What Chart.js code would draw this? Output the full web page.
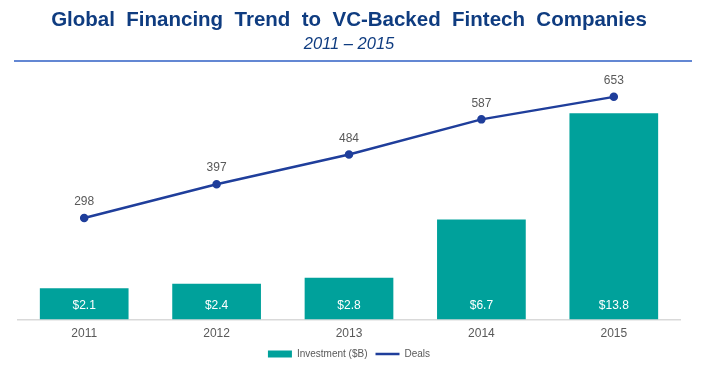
<!DOCTYPE html>
<html>
<head>
<meta charset="utf-8">
<script src="https://cdn.jsdelivr.net/npm/chart.js@4.4.1/dist/chart.umd.min.js"></script>
<style>
  html, body { margin: 0; padding: 0; background: #fff; }
  #wrap { width: 706px; height: 378px; }
</style>
</head>
<body>
<div id="wrap"><canvas id="myChart"></canvas></div>
<script>
var years = ["2011", "2012", "2013", "2014", "2015"];
var investment = [2.1, 2.4, 2.8, 6.7, 13.8];
var deals = [298, 397, 484, 587, 653];

var navy = "#1f3e9b";
var teal = "#00a19b";

// blue rule under the subtitle
var rulePlugin = {
  id: 'rule',
  afterDraw: function (chart) {
    var ctx = chart.ctx;
    ctx.save();
    ctx.strokeStyle = "#2f5fc4";
    ctx.lineWidth = 1.5;
    ctx.beginPath();
    ctx.moveTo(14, 61);
    ctx.lineTo(692, 61);
    ctx.stroke();
    ctx.restore();
  }
};

// value labels on bars and points
var labelPlugin = {
  id: 'valueLabels',
  afterDatasetsDraw: function (chart) {
    var ctx = chart.ctx;
    ctx.save();
    ctx.textAlign = 'center';
    ctx.textBaseline = 'middle';
    ctx.font = "12px 'Liberation Sans', Arial, sans-serif";
    chart.getDatasetMeta(0).data.forEach(function (bar, i) {
      ctx.fillStyle = "#ffffff";
      ctx.fillText("$" + investment[i].toFixed(1), bar.x, chart.scales.y.getPixelForValue(0) - 14);
    });
    chart.getDatasetMeta(1).data.forEach(function (pt, i) {
      ctx.fillStyle = "#595959";
      ctx.fillText(deals[i], pt.x, pt.y - 16);
    });
    ctx.restore();
  }
};

var myChart = new Chart(document.getElementById('myChart'), {
  data: {
    labels: years,
    datasets: [{
      type: 'bar',
      label: 'Investment ($B)',
      data: investment,
      backgroundColor: teal,
      barPercentage: 0.67,
      categoryPercentage: 1,
      yAxisID: 'y',
      order: 2
    },
    {
      type: 'line',
      label: 'Deals',
      data: deals,
      borderColor: navy,
      backgroundColor: navy,
      borderWidth: 2.5,
      pointRadius: 3,
      pointBackgroundColor: navy,
      pointBorderColor: navy,
      yAxisID: 'y1',
      order: 1
    }]
  },
  options: {
    responsive: true,
    maintainAspectRatio: false,
    animation: false,
    layout: {
      padding: { left: 18, right: 26, bottom: 9 }
    },
    plugins: {
      title: {
        display: true,
        text: 'Global  Financing  Trend  to  VC-Backed  Fintech  Companies',
        color: "#0f3c80",
        font: { family: "'Liberation Sans', Arial, sans-serif", size: 20.5, weight: 'bold' },
        padding: { top: 8, bottom: 0 }
      },
      subtitle: {
        display: true,
        text: '2011 \u2013 2015',
        color: "#0f3c80",
        font: { family: "'Liberation Sans', Arial, sans-serif", size: 16.5, style: 'italic' },
        padding: { top: 2, bottom: 15 }
      },
      legend: {
        position: 'bottom',
        labels: {
          color: "#595959",
          font: { family: "'Liberation Sans', Arial, sans-serif", size: 10 },
          usePointStyle: true,
          pointStyleWidth: 24,
          boxHeight: 7,
          padding: 8,
          generateLabels: function (chart) {
            return [
              { text: 'Investment ($B)', fillStyle: teal, strokeStyle: teal, lineWidth: 0, pointStyle: 'rect', datasetIndex: 0, fontColor: "#595959" },
              { text: 'Deals', fillStyle: navy, strokeStyle: navy, lineWidth: 2.5, pointStyle: 'line', datasetIndex: 1, fontColor: "#595959" }
            ];
          }
        }
      },
      tooltip: { enabled: false }
    },
    scales: {
      x: {
        grid: { display: false, drawTicks: false },
        border: { color: "#d9d9d9", width: 1.5 },
        ticks: {
          color: "#595959",
          padding: 7,
          font: { family: "'Liberation Sans', Arial, sans-serif", size: 12 }
        },
        afterFit: function (scale) {
          scale.height -= 7;
        }
      },
      y: {
        display: false,
        min: 0,
        max: 16.74
      },
      y1: {
        display: false,
        position: 'right',
        min: 0,
        max: 733.5
      }
    }
  },
  plugins: [rulePlugin, labelPlugin]
});
</script>
</body>
</html>
